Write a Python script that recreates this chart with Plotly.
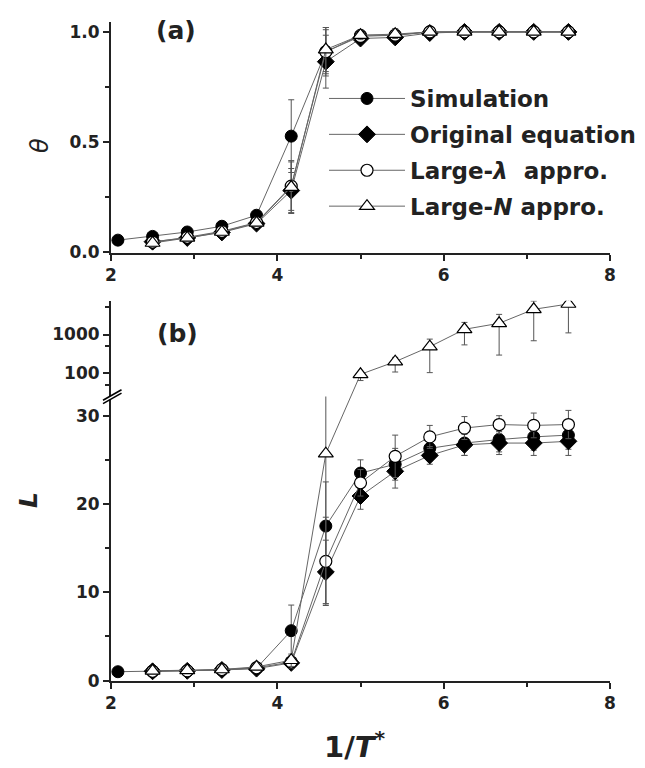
import plotly.graph_objects as go
import math

# ---------------- data ----------------
x_sim = [2.083, 2.5, 2.917, 3.333, 3.75, 4.167, 4.583, 5.0, 5.417, 5.833, 6.25, 6.667, 7.083, 7.5]
x_mod = [2.5, 2.917, 3.333, 3.75, 4.167, 4.583, 5.0, 5.417, 5.833, 6.25, 6.667, 7.083, 7.5]

# panel (a): theta
theta_sim = [0.055, 0.072, 0.092, 0.118, 0.168, 0.527, 0.91, 0.985, 0.985, 1.0, 1.0, 1.0, 1.0, 1.0]
theta_sim_err = [0.005, 0.008, 0.01, 0.012, 0.015, 0.165, 0.10, 0.02, 0.03, 0.01, 0.005, 0.005, 0.005, 0.005]
theta_orig = [0.048, 0.065, 0.09, 0.13, 0.28, 0.865, 0.97, 0.975, 0.995, 1.0, 1.0, 1.0, 1.0]
theta_orig_err = [0.008, 0.01, 0.01, 0.012, 0.10, 0.12, 0.02, 0.02, 0.01, 0.005, 0.005, 0.005, 0.005]
theta_lam = [0.046, 0.068, 0.095, 0.135, 0.30, 0.91, 0.98, 0.985, 1.0, 1.0, 1.0, 1.0, 1.0]
theta_lam_err = [0.008, 0.01, 0.01, 0.012, 0.11, 0.11, 0.02, 0.02, 0.01, 0.005, 0.005, 0.005, 0.005]
theta_N = [0.042, 0.065, 0.092, 0.133, 0.296, 0.92, 0.985, 0.99, 1.0, 1.0, 1.0, 1.0, 1.0]
theta_N_err = [0.008, 0.01, 0.01, 0.012, 0.12, 0.10, 0.02, 0.02, 0.01, 0.005, 0.005, 0.005, 0.005]

# panel (b): L
L_sim = [1.0, 1.05, 1.1, 1.2, 1.4, 5.65, 17.5, 23.5, 24.5, 26.3, 26.9, 27.3, 27.6, 27.8]
L_sim_err = [0.1, 0.2, 0.2, 0.25, 0.3, 2.9, 5.0, 1.5, 1.8, 1.4, 1.4, 1.4, 1.5, 1.6]
L_orig = [1.05, 1.1, 1.2, 1.35, 2.0, 12.3, 20.9, 23.7, 25.5, 26.7, 26.9, 26.9, 27.1]
L_orig_err = [0.2, 0.2, 0.25, 0.3, 0.6, 3.6, 1.5, 1.9, 1.0, 1.2, 1.3, 1.4, 1.6]
L_lam = [1.05, 1.1, 1.25, 1.45, 2.1, 13.5, 22.4, 25.4, 27.6, 28.6, 29.0, 28.9, 29.0]
L_lam_err = [0.2, 0.2, 0.25, 0.3, 0.7, 5.0, 1.5, 2.4, 1.3, 1.3, 1.0, 1.4, 1.6]
# Large-N: first part on the linear (lower) segment, rest on the log (upper) segment
x_N_low = [2.5, 2.917, 3.333, 3.75, 4.167, 4.583]
L_N_low = [1.1, 1.15, 1.25, 1.55, 2.3, 25.7]
L_N_low_err = [0.2, 0.2, 0.25, 0.3, 0.7, 17.0]
x_N_high = [5.0, 5.417, 5.833, 6.25, 6.667, 7.083, 7.5]
L_N_high = [94, 199, 485, 1360, 1945, 4460, 6110]
L_N_high_plus = [12, 58, 275, 690, 1355, 2840, 2500]
L_N_high_minus = [29, 91, 381, 820, 1650, 3770, 5010]

names = ["Simulation", "Original equation", "Large-<i>\u03bb</i>  appro.", "Large-<i>N</i> appro."]

# ---------------- layout geometry ----------------
W, H = 645, 768
ml, mr, mt, mb = 111, 35, 22, 87
PW, PH = W - ml - mr, H - mt - mb


def px2p(px):
    return (px - ml) / PW


def py2p(py):
    return (H - mb - py) / PH


dom_a = [py2p(252.7), 1.0]
brk = 396.5
dom_lo = [0.0, py2p(brk)]
dom_hi = [py2p(brk), py2p(300.7)]
rng_a = [-0.002, 1.045]
rng_lo = [-0.05, (680.6 - brk) / 8.83]
rng_hi = [2 - (brk - 373.3) / 38.8, 3 + (334.5 - 300.7) / 38.8]

LINE = "#666666"
ERR = dict(type="data", color="#555555", thickness=1, width=3)
styles = [
    dict(symbol="circle", size=12, color="black", line=dict(color="black", width=1)),
    dict(symbol="diamond", size=13, color="black", line=dict(color="black", width=1)),
    dict(symbol="circle", size=12, color="white", line=dict(color="black", width=1.2)),
    dict(symbol="triangle-up", size=13, color="white", line=dict(color="black", width=1.2)),
]

fig = go.Figure()

# panel (a)
series_a = [(x_sim, theta_sim, theta_sim_err), (x_mod, theta_orig, theta_orig_err),
            (x_mod, theta_lam, theta_lam_err), (x_mod, theta_N, theta_N_err)]
for i, (xs, ys, es) in enumerate(series_a):
    fig.add_trace(go.Scatter(x=xs, y=ys, mode="lines+markers", name=names[i],
                             line=dict(color=LINE, width=1), marker=styles[i],
                             error_y=dict(array=es, **ERR), legendgroup=str(i),
                             xaxis="x", yaxis="y"))

# panel (b) lower
series_b = [(x_sim, L_sim, L_sim_err), (x_mod, L_orig, L_orig_err),
            (x_mod, L_lam, L_lam_err), (x_N_low, L_N_low, L_N_low_err)]
for i, (xs, ys, es) in enumerate(series_b):
    fig.add_trace(go.Scatter(x=xs, y=ys, mode="lines+markers", name=names[i],
                             line=dict(color=LINE, width=1), marker=styles[i],
                             error_y=dict(array=es, **ERR), showlegend=False,
                             xaxis="x2", yaxis="y2"))
# panel (b) upper (log)
fig.add_trace(go.Scatter(x=x_N_high, y=L_N_high, mode="lines+markers", name=names[3],
                         line=dict(color=LINE, width=1), marker=styles[3],
                         error_y=dict(array=L_N_high_plus, arrayminus=L_N_high_minus,
                                      symmetric=False, **ERR),
                         showlegend=False, xaxis="x2", yaxis="y3"))


# connecting segment of Large-N across the axis break
def lo2p(v):
    return dom_lo[0] + (v - rng_lo[0]) / (rng_lo[1] - rng_lo[0]) * (dom_lo[1] - dom_lo[0])


def hi2p(v):
    return dom_hi[0] + (math.log10(v) - rng_hi[0]) / (rng_hi[1] - rng_hi[0]) * (dom_hi[1] - dom_hi[0])


shapes = [dict(type="line", xref="x2", yref="paper", layer="below",
               x0=x_N_low[-1], y0=lo2p(L_N_low[-1]), x1=x_N_high[0], y1=hi2p(L_N_high[0]),
               line=dict(color=LINE, width=1))]

# axis break marks
ax, bx = 103, 121.5
sA = [(ax, 400.3), (bx, 389.8)]
sB = [(ax, 403.6), (bx, 393.1)]
poly = "M{},{} L{},{} L{},{} L{},{} Z".format(
    px2p(sA[0][0]), py2p(sA[0][1]), px2p(sA[1][0]), py2p(sA[1][1]),
    px2p(sB[1][0]), py2p(sB[1][1]), px2p(sB[0][0]), py2p(sB[0][1]))
shapes.append(dict(type="path", path=poly, xref="paper", yref="paper", layer="above",
                   fillcolor="white", line=dict(width=0)))
for s in (sA, sB):
    shapes.append(dict(type="line", xref="paper", yref="paper", layer="above",
                       x0=px2p(s[0][0]), y0=py2p(s[0][1]), x1=px2p(s[1][0]), y1=py2p(s[1][1]),
                       line=dict(color="black", width=1.6)))

TICKF = dict(family="DejaVu Sans", size=17, color="#222222", weight="bold")
common = dict(showline=True, linecolor="#222222", linewidth=2, ticks="outside",
              ticklen=6, tickwidth=2, tickcolor="#222222", showgrid=False,
              zeroline=False, tickfont=TICKF)
minor = dict(ticks="outside", ticklen=4, tickwidth=1.5, tickcolor="#222222", showgrid=False)


def ann(text, px, py, size, angle=0):
    return dict(text=text, x=px2p(px), y=py2p(py), xref="paper", yref="paper",
                xanchor="center", yanchor="middle", showarrow=False, textangle=angle,
                font=dict(family="DejaVu Sans", size=size, color="#222222"))


fig.update_layout(
    width=W, height=H,
    margin=dict(l=ml, r=mr, t=mt, b=mb, autoexpand=False),
    paper_bgcolor="white", plot_bgcolor="white",
    shapes=shapes,
    xaxis=dict(domain=[0, 1], range=[2, 8], anchor="y", tickvals=[2, 4, 6, 8],
               minor=dict(tickvals=[3, 5, 7], **minor), **common),
    yaxis=dict(domain=dom_a, range=rng_a, anchor="x", tickvals=[0, 0.5, 1.0],
               ticktext=["0.0", "0.5", "1.0"],
               minor=dict(tickvals=[0.25, 0.75], **minor), **common),
    xaxis2=dict(domain=[0, 1], range=[2, 8], anchor="y2", tickvals=[2, 4, 6, 8],
                minor=dict(tickvals=[3, 5, 7], **minor), **common),
    yaxis2=dict(domain=dom_lo, range=rng_lo, anchor="x2", tickvals=[0, 10, 20, 30],
                minor=dict(tickvals=[5, 15, 25], **minor), **common),
    yaxis3=dict(domain=dom_hi, range=rng_hi, type="log", anchor="x2",
                tickvals=[100, 1000], ticktext=["100", "1000"],
                minor=dict(tickvals=[50, 500, 5000], **minor), **common),
    legend=dict(x=px2p(324), y=py2p(77), xanchor="left", yanchor="top",
                font=dict(family="DejaVu Sans", size=23, color="#222222", weight="bold"),
                itemwidth=76, tracegroupgap=3, bgcolor="rgba(0,0,0,0)"),
    annotations=[
        ann("<b>(a)</b>", 176, 31, 25),
        ann("<b>(b)</b>", 177, 333, 25),
        ann("<i>\u03b8</i>", 40, 146, 24, -90),
        ann("<b><i>L</i></b>", 28, 500, 25, -90),
        ann("<b>1/<i>T</i><sup>*</sup></b>", 355, 745, 29),
    ],
)

fig.write_html("out.html")
